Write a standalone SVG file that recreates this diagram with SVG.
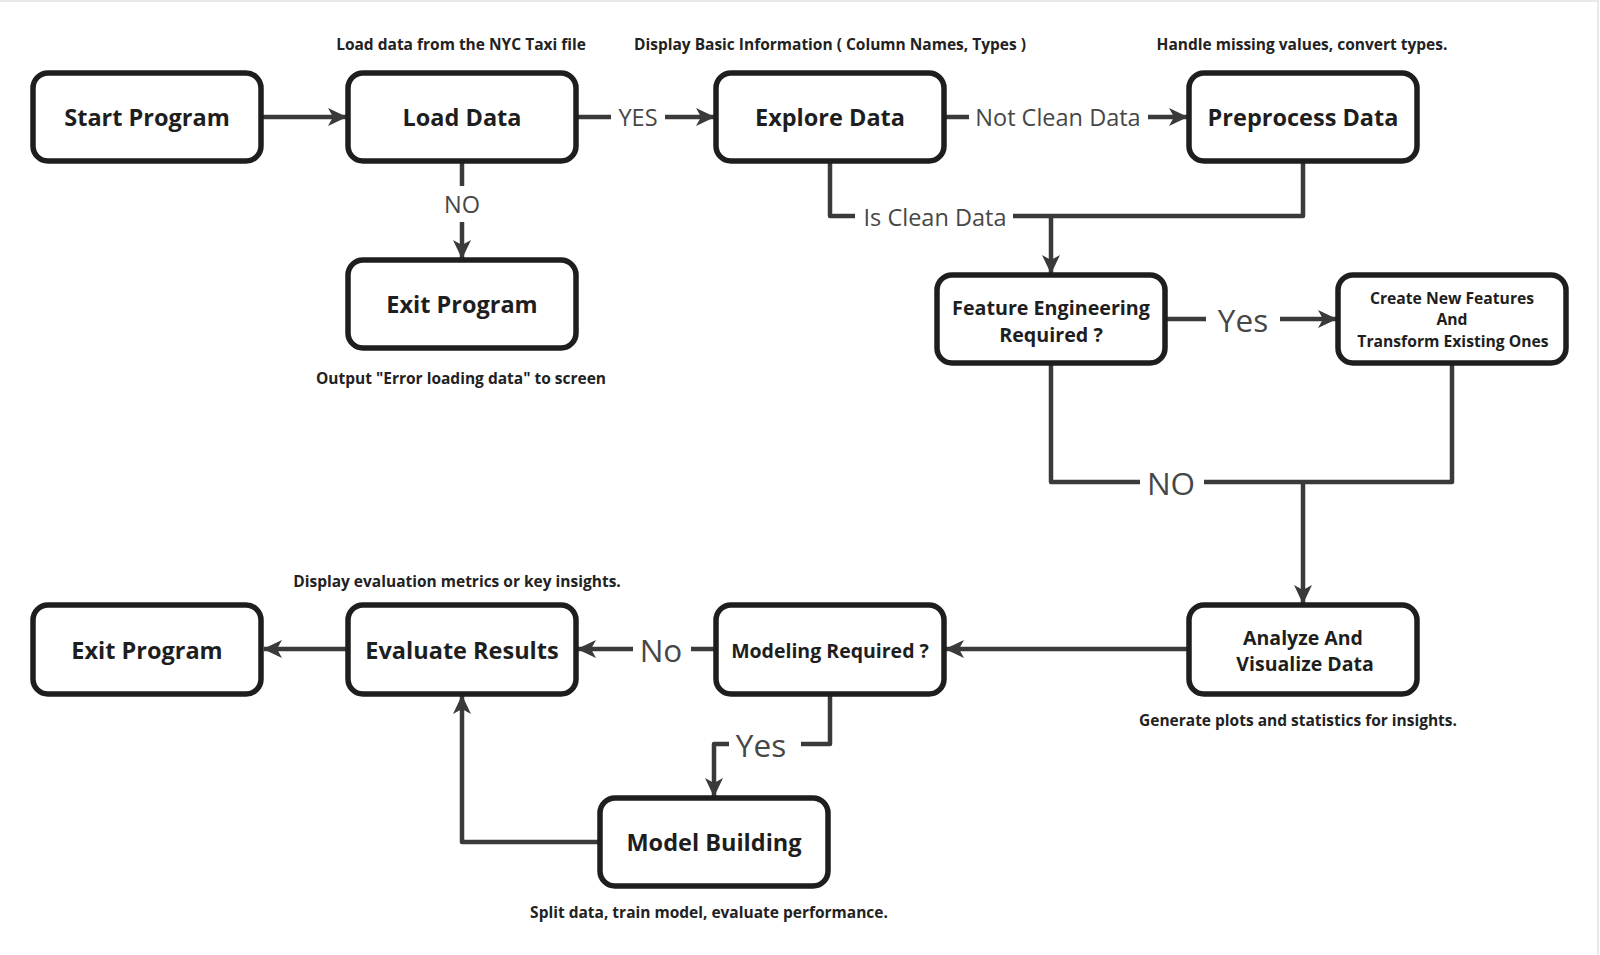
<svg xmlns="http://www.w3.org/2000/svg" width="1600" height="955" viewBox="0 0 1600 955">
<defs>
<style>
.box{fill:#fff;stroke:#1e1e1e;stroke-width:5.5}
.nt{font-family:"Open Sans","Noto Sans","DejaVu Sans",sans-serif;font-weight:700;fill:#1e1e1e;text-anchor:middle;dominant-baseline:central}
.ann{font-family:"Open Sans","Noto Sans","DejaVu Sans",sans-serif;font-weight:700;font-size:15.5px;fill:#222;text-anchor:middle}
.el{font-family:"Open Sans","Noto Sans","DejaVu Sans",sans-serif;font-weight:400;fill:#474747;text-anchor:middle;dominant-baseline:central}
.c{fill:none;stroke:#3a3a3a;stroke-width:4.5;stroke-linejoin:round}
.ca{fill:none;stroke:#3a3a3a;stroke-width:4.5;stroke-linejoin:round;marker-end:url(#ah)}
</style>
<marker id="ah" markerUnits="userSpaceOnUse" markerWidth="20" markerHeight="20" viewBox="0 0 20 20" refX="18" refY="10" orient="auto">
<path d="M0,1 L19,10 L0,19 L5,10 z" fill="#3a3a3a"/>
</marker>
</defs>
<rect width="1600" height="955" fill="#fff"/>
<path d="M0,1 H1598 V955" fill="none" stroke="#e2e2e2" stroke-width="1.5"/>

<g id="connectors">
<path class="ca" d="M262,117 H346"/>
<path class="c" d="M576,117 H611"/>
<path class="ca" d="M665,117 H714"/>
<text class="el" x="638" y="117" font-size="23.5">YES</text>
<path class="c" d="M462,161 V186"/>
<path class="ca" d="M462,222 V258"/>
<text class="el" x="462" y="204" font-size="23.5">NO</text>
<path class="c" d="M944,117 H969"/>
<path class="ca" d="M1148,117 H1187"/>
<text class="el" x="1058" y="117" font-size="23.5">Not Clean Data</text>
<path class="c" d="M830,161 V216 H855"/>
<text class="el" x="935" y="217" font-size="23.5">Is Clean Data</text>
<path class="c" d="M1013,216 H1303 V161"/>
<path class="ca" d="M1051,216 V273"/>
<path class="c" d="M1165,319 H1206"/>
<path class="ca" d="M1280,319 H1336"/>
<text class="el" x="1243" y="319" font-size="31.5">Yes</text>
<path class="c" d="M1051,363 V482 H1140"/>
<text class="el" x="1171" y="482" font-size="31.5">NO</text>
<path class="c" d="M1204,482 H1452 V363"/>
<path class="ca" d="M1303,482 V603"/>
<path class="ca" d="M1189,649 H946"/>
<path class="c" d="M716,649 H691"/>
<path class="ca" d="M633,649 H578"/>
<text class="el" x="661" y="649" font-size="31.5">No</text>
<path class="c" d="M830,694 V744 H801"/>
<text class="el" x="761" y="744" font-size="31.5">Yes</text>
<path class="ca" d="M729,744 H714 V796"/>
<path class="ca" d="M600,842 H462 V696"/>
<path class="ca" d="M348,649 H264"/>
</g>

<g id="start"><rect class="box" x="33" y="73" width="228" height="88" rx="15"/><text class="nt" x="147" y="117" font-size="23.5">Start Program</text></g>
<g id="load"><rect class="box" x="348" y="73" width="228" height="88" rx="15"/><text class="nt" x="462" y="117" font-size="23.5">Load Data</text><text class="ann" x="461" y="50">Load data from the NYC Taxi file</text></g>
<g id="explore"><rect class="box" x="716" y="73" width="228" height="88" rx="15"/><text class="nt" x="830" y="117" font-size="23.5">Explore Data</text><text class="ann" x="830" y="50">Display Basic Information ( Column Names, Types )</text></g>
<g id="preprocess"><rect class="box" x="1189" y="73" width="228" height="88" rx="15"/><text class="nt" x="1303" y="117" font-size="23.5">Preprocess Data</text><text class="ann" x="1302" y="50">Handle missing values, convert types.</text></g>
<g id="exit-top"><rect class="box" x="348" y="260" width="228" height="88" rx="15"/><text class="nt" x="462" y="304" font-size="23.5">Exit Program</text><text class="ann" x="461" y="384">Output "Error loading data" to screen</text></g>
<g id="feature"><rect class="box" x="937" y="275" width="228" height="88" rx="15"/><text class="nt" x="1051" y="307" font-size="19.7">Feature Engineering</text><text class="nt" x="1051" y="334" font-size="19.7">Required ?</text></g>
<g id="create"><rect class="box" x="1338" y="275" width="228" height="88" rx="15"/><text class="nt" x="1452" y="298" font-size="15.7">Create New Features</text><text class="nt" x="1452" y="319" font-size="15.7">And</text><text class="nt" x="1453" y="341" font-size="15.7">Transform Existing Ones</text></g>
<g id="analyze"><rect class="box" x="1189" y="605" width="228" height="89" rx="15"/><text class="nt" x="1303" y="637" font-size="19.5">Analyze And</text><text class="nt" x="1305" y="663" font-size="19.5">Visualize Data</text><text class="ann" x="1298" y="726">Generate plots and statistics for insights.</text></g>
<g id="modeling"><rect class="box" x="716" y="605" width="228" height="89" rx="15"/><text class="nt" x="830" y="650" font-size="19.5">Modeling Required ?</text></g>
<g id="evaluate"><rect class="box" x="348" y="605" width="228" height="89" rx="15"/><text class="nt" x="462" y="650" font-size="23.5">Evaluate Results</text><text class="ann" x="457" y="587">Display evaluation metrics or key insights.</text></g>
<g id="exit-bottom"><rect class="box" x="33" y="605" width="228" height="89" rx="15"/><text class="nt" x="147" y="650" font-size="23.5">Exit Program</text></g>
<g id="model-building"><rect class="box" x="600" y="798" width="228" height="88" rx="15"/><text class="nt" x="714" y="842" font-size="23.5">Model Building</text><text class="ann" x="709" y="918">Split data, train model, evaluate performance.</text></g>
</svg>
